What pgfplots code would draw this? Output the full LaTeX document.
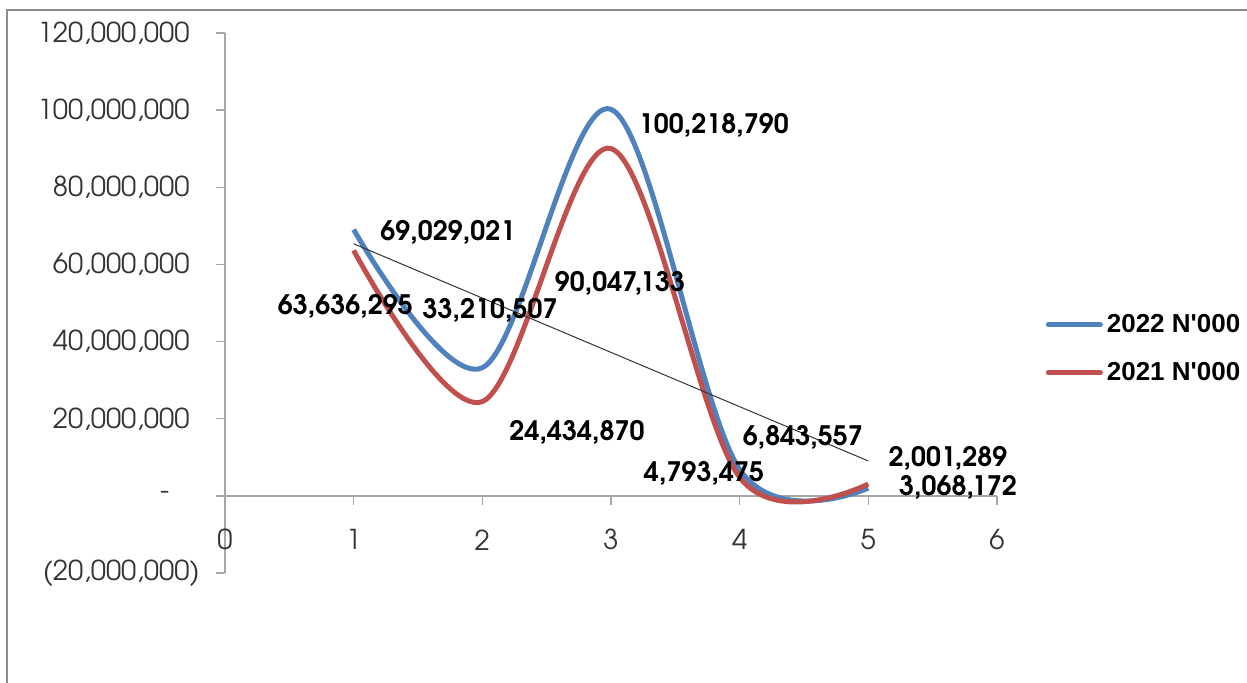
\documentclass[border=0pt]{standalone}
\usepackage{pgfplots}
\pgfplotsset{compat=1.18}
\usepackage{fontspec}
\setmainfont{TeX Gyre Adventor}
\newfontfamily\legfont{Liberation Sans}
\definecolor{blue22}{HTML}{4F81BD}
\definecolor{red21}{HTML}{C0504D}
\tikzset{lbl/.style={font=\bfseries\fontsize{13.4}{15}\selectfont, text=black, inner sep=0pt, text depth=0pt}}
\begin{document}
\begin{tikzpicture}
\path[use as bounding box] (0,0) rectangle (623.5pt,341.5pt);
\begin{axis}[
  at={(112.5pt,55pt)}, anchor=south west,
  scale only axis, width=386pt, height=270pt,
  xmin=0, xmax=6, ymin=-20, ymax=120,
  axis lines=middle,
  axis line style={-, gray!70, line width=0.75pt},
  xtick={0,1,2,3,4,5,6}, xticklabels={0,1,2,3,4,5,6},
  ytick={-20,0,20,40,60,80,100,120},
  yticklabels={{(20,000,000)},{-\hphantom{00}},{20,000,000\hphantom{)}},{40,000,000\hphantom{)}},{60,000,000\hphantom{)}},{80,000,000\hphantom{)}},{100,000,000\hphantom{)}},{120,000,000\hphantom{)}}},
  tick align=outside, major tick length=4.5pt,
  tick style={gray!70, line width=0.75pt},
  hide obscured x ticks=false, hide obscured y ticks=false,
  xticklabel style={anchor=center, yshift=-17.5pt, inner sep=0pt, font=\fontsize{13.7}{15}\selectfont, text=black!80},
  yticklabel style={anchor=east, xshift=-8pt, inner sep=0pt, font=\fontsize{13.7}{15}\selectfont, text=black!80},
  clip=false,
  legend style={at={(1.055,0.4157)}, anchor=west, draw=none, fill=none,
    font=\legfont\bfseries\fontsize{13}{15}\selectfont, row sep=9.5pt},
  legend cell align=left,
  legend image code/.code={\draw[#1, line width=2.5pt, line cap=round] (0pt,0pt) -- (26pt,0pt);},
]
\addplot[blue22, line width=2.5pt, smooth, tension=0.55] coordinates {(1,69.029021) (2,33.210507) (3,100.218790) (4,6.843557) (5,2.001289)};
\addlegendentry{2022 N'000}
\addplot[red21, line width=2.5pt, smooth, tension=0.55] coordinates {(1,63.636295) (2,24.434870) (3,90.047133) (4,4.793475) (5,3.068172)};
\addlegendentry{2021 N'000}
\addplot[black!80, line width=0.5pt, forget plot] coordinates {(1,65.351517) (5,9.040461)};
\node[lbl] at (axis cs:1.733,68.7) {69,029,021};
\node[lbl] at (axis cs:0.936,49.5) {63,636,295};
\node[lbl] at (axis cs:2.060,48.5) {33,210,507};
\node[lbl] at (axis cs:3.800,96.6) {100,218,790};
\node[lbl] at (axis cs:3.070,55.7) {90,047,133};
\node[lbl] at (axis cs:2.736,16.85) {24,434,870};
\node[lbl] at (axis cs:4.492,15.55) {6,843,557};
\node[lbl] at (axis cs:3.723,6.22) {4,793,475};
\node[lbl] at (axis cs:5.619,10.1) {2,001,289};
\node[lbl] at (axis cs:5.697,2.6) {3,068,172};
\end{axis}
\draw[black!45, line width=1pt] (3.5pt,0pt) -- (3.5pt,336.5pt) -- (623.5pt,336.5pt);
\end{tikzpicture}
\end{document}
